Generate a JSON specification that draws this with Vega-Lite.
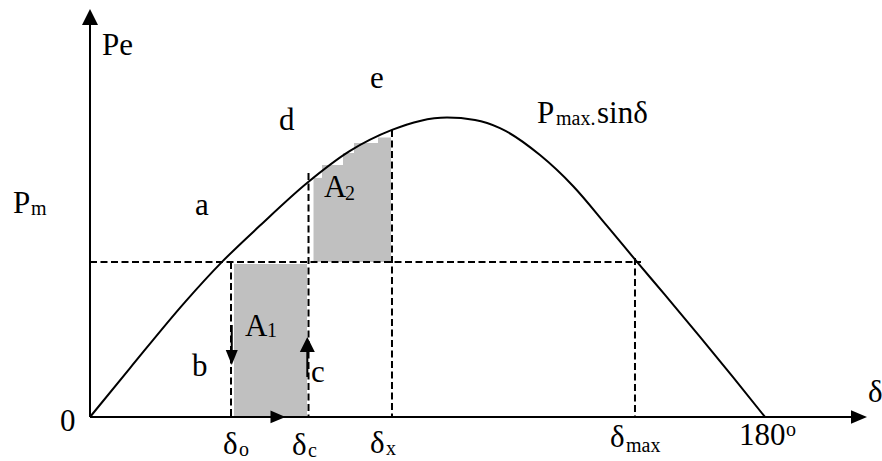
{
  "$schema": "https://vega.github.io/schema/vega-lite/v6.json",
  "width": 882,
  "height": 461,
  "padding": 0,
  "autosize": {"type": "none"},
  "background": "white",
  "config": {"view": {"stroke": null}, "mark": {"font": "Liberation Serif"}},
  "datasets": {
    "curve": [
      {"d": 0, "p": 0}, {"d": 10.67, "p": 0.163}, {"d": 25.33, "p": 0.383}, {"d": 35.2, "p": 0.517},
      {"d": 45.33, "p": 0.638}, {"d": 57.87, "p": 0.78}, {"d": 69.33, "p": 0.887}, {"d": 80.53, "p": 0.957},
      {"d": 88, "p": 0.987}, {"d": 95.2, "p": 0.998}, {"d": 102.67, "p": 0.99}, {"d": 109.33, "p": 0.963},
      {"d": 120, "p": 0.873}, {"d": 128.8, "p": 0.77}, {"d": 137.87, "p": 0.637}, {"d": 145.87, "p": 0.517},
      {"d": 153.33, "p": 0.407}, {"d": 162.67, "p": 0.267}, {"d": 171.47, "p": 0.133}, {"d": 180, "p": 0}
    ],
    "shaded": [
      {"region": "A1", "d": 38.4, "d2": 57.87, "p": 0.51, "p2": 0},
      {"region": "A2", "d": 59.6, "d2": 61.87, "p": 0.797, "p2": 0.517},
      {"region": "A2", "d": 61.87, "d2": 67.47, "p": 0.84, "p2": 0.517},
      {"region": "A2", "d": 67.47, "d2": 70.4, "p": 0.88, "p2": 0.517},
      {"region": "A2", "d": 70.4, "d2": 76.8, "p": 0.913, "p2": 0.517},
      {"region": "A2", "d": 76.8, "d2": 80.27, "p": 0.932, "p2": 0.517}
    ],
    "angles": [
      {"name": "delta_o", "d": 37.6, "p": 0.517, "p2": 0},
      {"name": "delta_c", "d": 58.27, "p": 0.813, "p2": 0},
      {"name": "delta_x", "d": 80.53, "p": 0.957, "p2": 0},
      {"name": "delta_max", "d": 145.33, "p": 0.53, "p2": 0}
    ],
    "pm": [{"d": 0, "d2": 146.93, "p": 0.517}],
    "axes": [
      {"d": 0, "p": 0, "d2": 0, "p2": 1.31},
      {"d": 0, "p": 0, "d2": 203.5, "p2": 0}
    ],
    "axisHeads": [
      {"dir": "up", "d": 0, "p": 1.3333},
      {"dir": "right", "d": 205.07, "p": 0}
    ],
    "shafts": [
      {"d": 37.8, "p": 0.3067, "d2": 37.8, "p2": 0.22},
      {"d": 57.95, "p": 0.1333, "d2": 57.95, "p2": 0.225}
    ],
    "heads": [
      {"dir": "down", "d": 37.8, "p": 0.1983},
      {"dir": "up", "d": 57.95, "p": 0.2417},
      {"dir": "right", "d": 50.13, "p": 0}
    ],
    "labels": [
      {"t": "Pe", "d": 3.2, "p": 1.207},
      {"t": "d", "d": 50.4, "p": 0.957},
      {"t": "e", "d": 74.67, "p": 1.097},
      {"t": "P", "d": 119.2, "p": 0.98},
      {"t": "sinδ", "d": 135.2, "p": 0.98},
      {"t": "P", "d": -20.53, "p": 0.68},
      {"t": "a", "d": 28, "p": 0.673},
      {"t": "A", "d": 41.33, "p": 0.27},
      {"t": "A", "d": 62.4, "p": 0.733},
      {"t": "b", "d": 27.2, "p": 0.137},
      {"t": "c", "d": 58.93, "p": 0.117},
      {"t": "0", "d": -8, "p": -0.047},
      {"t": "δ", "d": 35.47, "p": -0.123},
      {"t": "δ", "d": 53.87, "p": -0.127},
      {"t": "δ", "d": 74.67, "p": -0.12},
      {"t": "δ", "d": 138.67, "p": -0.1},
      {"t": "180", "d": 173.07, "p": -0.093},
      {"t": "δ", "d": 207.47, "p": 0.05}
    ],
    "subs": [
      {"t": "max.", "d": 124.27, "p": 0.973},
      {"t": "m", "d": -15.73, "p": 0.673},
      {"t": "1", "d": 47.2, "p": 0.267},
      {"t": "2", "d": 68, "p": 0.723},
      {"t": "o", "d": 39.73, "p": -0.13},
      {"t": "c", "d": 58.13, "p": -0.133},
      {"t": "x", "d": 78.93, "p": -0.127},
      {"t": "max", "d": 142.93, "p": -0.117},
      {"t": "o", "d": 185.6, "p": -0.063}
    ]
  },
  "encoding": {
    "x": {"field": "d", "type": "quantitative", "scale": {"domain": [-24, 211.2], "nice": false, "zero": false}, "axis": null},
    "y": {"field": "p", "type": "quantitative", "scale": {"domain": [-0.146667, 1.39], "nice": false, "zero": false}, "axis": null}
  },
  "layer": [
    {
      "data": {"name": "shaded"},
      "mark": {"type": "rect", "color": "#c0c0c0"},
      "encoding": {"x2": {"field": "d2"}, "y2": {"field": "p2"}}
    },
    {
      "data": {"name": "angles"},
      "mark": {"type": "rule", "color": "black", "strokeWidth": 2, "strokeDash": [7, 3.5]},
      "encoding": {"y2": {"field": "p2"}}
    },
    {
      "data": {"name": "pm"},
      "mark": {"type": "rule", "color": "black", "strokeWidth": 2, "strokeDash": [7, 3.5]},
      "encoding": {"x2": {"field": "d2"}}
    },
    {
      "data": {"name": "curve"},
      "mark": {"type": "line", "color": "black", "strokeWidth": 2, "interpolate": "monotone"},
      "encoding": {}
    },
    {
      "data": {"name": "axes"},
      "mark": {"type": "rule", "color": "black", "strokeWidth": 2},
      "encoding": {"x2": {"field": "d2"}, "y2": {"field": "p2"}}
    },
    {
      "data": {"name": "shafts"},
      "mark": {"type": "rule", "color": "black", "strokeWidth": 2},
      "encoding": {"x2": {"field": "d2"}, "y2": {"field": "p2"}}
    },
    {
      "data": {"name": "axisHeads"},
      "mark": {"type": "point", "filled": true, "color": "black", "opacity": 1, "size": 256},
      "encoding": {
        "shape": {"field": "dir", "type": "nominal", "legend": null,
          "scale": {"domain": ["up", "down", "right"], "range": ["M0,-1L1,1L-1,1Z", "M-0.8,-1L0.8,-1L0,1Z", "M1,0L-1,-0.85L-1,0.85Z"]}}
      }
    },
    {
      "data": {"name": "heads"},
      "mark": {"type": "point", "filled": true, "color": "black", "opacity": 1, "size": 225},
      "encoding": {
        "shape": {"field": "dir", "type": "nominal", "legend": null,
          "scale": {"domain": ["up", "down", "right"], "range": ["M0,-1L1,1L-1,1Z", "M-0.8,-1L0.8,-1L0,1Z", "M1,0L-1,-0.85L-1,0.85Z"]}}
      }
    },
    {
      "data": {"name": "labels"},
      "mark": {"type": "text", "font": "Liberation Serif", "fontSize": 31, "align": "left", "baseline": "alphabetic", "color": "black"},
      "encoding": {"text": {"field": "t"}}
    },
    {
      "data": {"name": "subs"},
      "mark": {"type": "text", "font": "Liberation Serif", "fontSize": 20, "align": "left", "baseline": "alphabetic", "color": "black"},
      "encoding": {"text": {"field": "t"}}
    }
  ]
}
